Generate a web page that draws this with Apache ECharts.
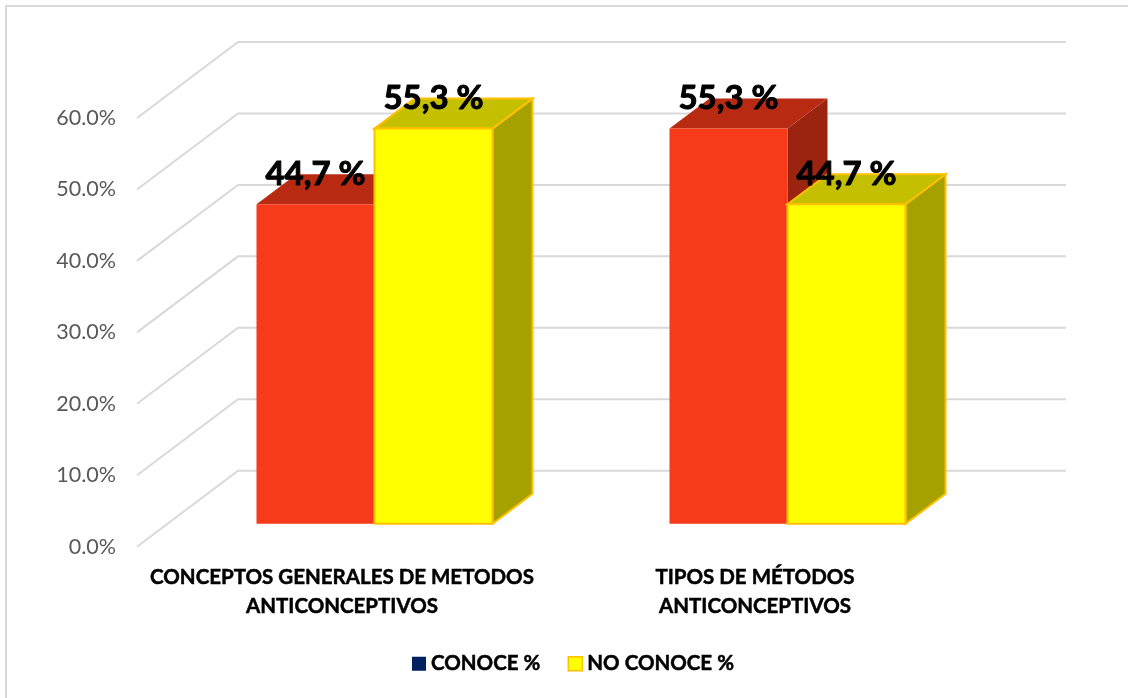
<!DOCTYPE html>
<html>
<head>
<meta charset="utf-8">
<style>html,body{margin:0;padding:0;background:#fff}#chart{width:1128px;height:698px}</style>
<script src="https://cdn.jsdelivr.net/npm/echarts@6/dist/echarts.min.js"></script>
</head>
<body>
<div id="chart"></div>
<script>
// Conocimiento sobre metodos anticonceptivos
const categories = ['CONCEPTOS GENERALES DE METODOS\nANTICONCEPTIVOS', 'TIPOS DE MÉTODOS\nANTICONCEPTIVOS'];
const seriesNames = ['CONOCE %', 'NO CONOCE %'];
const conoce = [44.7, 55.3];
const noConoce = [55.3, 44.7];
const yTicks = [0, 10, 20, 30, 40, 50, 60];

// Perspective of the fake 3D box, in pixels
const FLOOR_DX = 101, FLOOR_DY = 76;   // front edge of the floor to the back wall
const BAR_DX = 31, BAR_DY = 23;        // front edge of the floor to the bar faces
const DEPTH_DX = 40, DEPTH_DY = 30;    // depth of one bar
const BAR_W = 118;
const FONT = 'Lato, "Open Sans", sans-serif';
const HEAVY = { textBorderColor: '#000', textBorderWidth: 0.5 };

const formatValue = v => v.toFixed(1).replace('.', ',') + ' %';

function wallLines(params, api) {
  const v = api.value(1);
  const p = api.coord([0, v]);
  const sys = params.coordSys;
  return {
    type: 'polyline',
    shape: { points: [
      [sys.x, p[1]],
      [sys.x + FLOOR_DX, p[1] - FLOOR_DY],
      [sys.x + sys.width + FLOOR_DX + 2, p[1] - FLOOR_DY]
    ] },
    style: { stroke: '#D9D9D9', lineWidth: 2, fill: null }
  };
}

function boxRenderer(side, colors) {
  return function (params, api) {
    const cat = api.value(0), val = api.value(1);
    const top = api.coord([cat, val]);
    const base = api.coord([cat, 0]);
    const x0 = top[0] + BAR_DX + (side < 0 ? -BAR_W : 0);
    const x1 = x0 + BAR_W;
    const yT = top[1] - BAR_DY, yB = base[1] - BAR_DY;
    const edge = { stroke: colors.edge, lineWidth: colors.edgeWidth, lineJoin: 'miter' };
    const poly = (points, fill) => ({
      type: 'polygon', shape: { points },
      style: Object.assign({ fill }, edge)
    });
    return {
      type: 'group',
      children: [
        poly([[x1, yT], [x1 + DEPTH_DX, yT - DEPTH_DY], [x1 + DEPTH_DX, yB - DEPTH_DY], [x1, yB]], colors.side),
        poly([[x0, yT], [x0 + DEPTH_DX, yT - DEPTH_DY], [x1 + DEPTH_DX, yT - DEPTH_DY], [x1, yT]], colors.top),
        poly([[x0, yT], [x1, yT], [x1, yB], [x0, yB]], colors.front),
        {
          type: 'text', z2: 100,
          style: {
            x: (x0 + x1) / 2, y: yT - 30,
            text: formatValue(val),
            align: 'center', verticalAlign: 'middle',
            font: 'bold 33px ' + FONT, fill: '#000',
            stroke: '#000', lineWidth: 1
          }
        }
      ]
    };
  };
}

const RED = { front: '#F63A1A', top: '#B82B12', side: '#9A2410', edge: null, edgeWidth: 0 };
const YELLOW = { front: '#FFFF00', top: '#C4C000', side: '#A5A100', edge: '#FFC000', edgeWidth: 2 };

const chart = echarts.init(document.getElementById('chart'), null, { renderer: 'canvas' });
chart.setOption({
  animation: false,
  backgroundColor: '#fff',
  graphic: [{
    type: 'rect', silent: true,
    shape: { x: 6, y: 6, width: 1140, height: 710 },
    style: { fill: null, stroke: '#D9D9D9', lineWidth: 2 }
  }],
  grid: { left: 137, top: 118, width: 826, height: 428.7 },
  xAxis: {
    type: 'category', data: categories,
    axisLine: { show: false }, axisTick: { show: false },
    axisLabel: Object.assign({
      interval: 0, margin: 16, color: '#000', fontFamily: FONT,
      fontWeight: 'bold', fontSize: 20.5, lineHeight: 29, padding: [0, 3, 0, 0]
    }, HEAVY)
  },
  yAxis: {
    type: 'value', min: 0, max: 60, interval: 10,
    axisLine: { show: false }, axisTick: { show: false }, splitLine: { show: false },
    axisLabel: {
      margin: 21, color: '#595959', fontFamily: FONT, fontSize: 21.5,
      padding: [5, 0, 0, 0],
      formatter: v => v.toFixed(1) + '%'
    }
  },
  legend: {
    left: 407, top: 648, icon: 'rect', itemWidth: 14, itemHeight: 14, itemGap: 27,
    textStyle: Object.assign({ color: '#000', fontFamily: FONT, fontWeight: 'bold', fontSize: 20.5 }, HEAVY),
    data: [
      { name: seriesNames[0], itemStyle: { color: '#002060', borderWidth: 0 } },
      { name: seriesNames[1], itemStyle: { color: '#FFFF00', borderColor: '#FFC000', borderWidth: 1.5 } }
    ]
  },
  series: [
    {
      type: 'custom', silent: true, clip: false, z: 1, renderItem: wallLines,
      data: yTicks.map(v => [0, v])
    },
    {
      name: seriesNames[0], type: 'custom', silent: true, clip: false, z: 2,
      itemStyle: { color: '#002060' },
      renderItem: boxRenderer(-1, RED),
      data: conoce.map((v, i) => [i, v])
    },
    {
      name: seriesNames[1], type: 'custom', silent: true, clip: false, z: 3,
      itemStyle: { color: '#FFFF00' },
      renderItem: boxRenderer(1, YELLOW),
      data: noConoce.map((v, i) => [i, v])
    }
  ]
});
</script>
</body>
</html>
